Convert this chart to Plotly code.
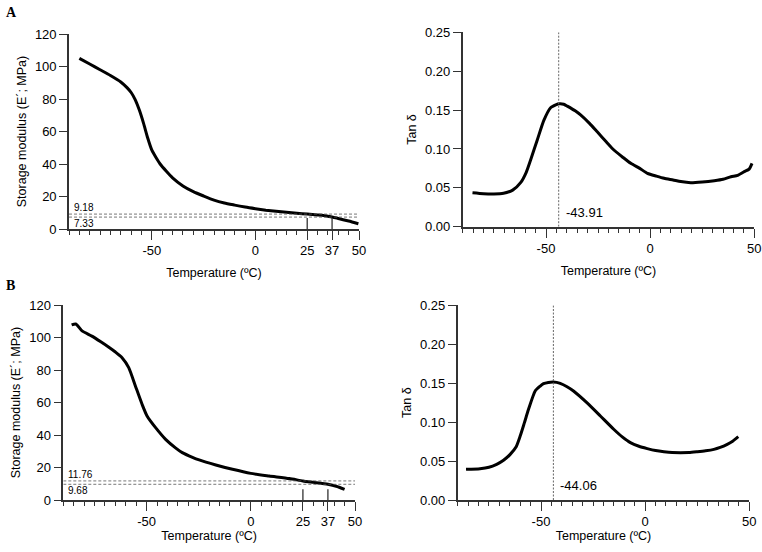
import plotly.graph_objects as go

# ---------------- data ----------------
temp_A_mod = [-85, -80, -75, -70, -65, -62, -60, -58, -56, -54, -52, -50, -48, -46, -43, -40, -35, -30, -25, -20, -15, -10, -5, 0, 5, 10, 15, 20, 25, 30, 35, 37, 40, 45, 49.7]
mod_A = [105, 101.5, 98, 94.5, 90.5, 87, 84, 79.5, 73, 65, 56, 48.5, 44, 40, 35.5, 31.5, 26.5, 23, 20.3, 17.8, 16, 14.7, 13.5, 12.5, 11.6, 10.9, 10.3, 9.7, 9.18, 8.6, 7.9, 7.33, 6.5, 4.9, 3.2]

temp_A_tan = [-85.3, -80, -75, -70.4, -66, -62.2, -59.5, -57.4, -54.2, -51, -47.8, -45, -43.9, -41.5, -39.8, -36, -33.4, -29, -25.4, -21, -17.4, -13, -9.3, -5, -1.3, 3, 6.7, 11, 14.7, 19.5, 25, 30.8, 35, 38.8, 42, 45.2, 47.5, 48.9]
tan_A = [0.0437, 0.0425, 0.0422, 0.043, 0.047, 0.0566, 0.07, 0.0858, 0.1115, 0.137, 0.153, 0.157, 0.158, 0.1575, 0.155, 0.149, 0.1437, 0.1325, 0.122, 0.109, 0.0986, 0.089, 0.0815, 0.075, 0.0686, 0.065, 0.0622, 0.06, 0.058, 0.0566, 0.0575, 0.0592, 0.061, 0.0643, 0.066, 0.0708, 0.074, 0.0815]

temp_B_mod = [-86, -84, -81, -76.3, -72, -68.3, -65, -61.8, -58.6, -55.4, -52.2, -49.8, -45.7, -40.9, -36, -32.9, -28, -24.8, -16.8, -8.8, 0, 8.8, 18.5, 25, 30, 37, 41, 45]
mod_B = [107.9, 108.5, 104.2, 101, 97.5, 94.3, 91.2, 87.7, 81.6, 70.3, 59, 51.8, 44.6, 37.4, 32, 29.2, 26.3, 24.7, 21.6, 18.9, 16.4, 14.8, 13.2, 11.76, 10.9, 9.68, 8.5, 6.6]

temp_B_tan = [-86, -79.3, -75, -71.3, -68, -64.8, -62, -60, -58, -56, -52.8, -50.5, -48.8, -46.5, -44.06, -42.5, -40.8, -37.5, -34.4, -28, -21.5, -15.1, -11, -7.1, -3, 1, 5, 9, 13, 17, 21, 25, 29, 33, 36, 39.4, 42, 44.7]
tan_B = [0.0394, 0.0402, 0.042, 0.0458, 0.051, 0.0586, 0.068, 0.0822, 0.099, 0.1164, 0.14, 0.146, 0.1494, 0.151, 0.1515, 0.151, 0.1498, 0.1455, 0.14, 0.125, 0.1079, 0.0908, 0.081, 0.0736, 0.069, 0.066, 0.0635, 0.062, 0.061, 0.0608, 0.061, 0.062, 0.0632, 0.065, 0.0675, 0.0715, 0.0755, 0.0813]

ref_temps = [25, 37]
ref_mod_A = [9.18, 7.33]
ref_mod_B = [11.76, 9.68]
peak_A = -43.91
peak_B = -44.06

x_major_mod = [-50, 0, 25, 37, 50]
x_major_tan = [-50, 0, 50]
y_mod_ticks = [0, 20, 40, 60, 80, 100, 120]
y_tan_ticks = [0, 0.05, 0.10, 0.15, 0.20, 0.25]

FONT = "Liberation Sans, Arial, sans-serif"
W, H = 762, 552
AXC = "#333"

fig = go.Figure()
line = dict(color="black", width=3, shape="spline", smoothing=0.6)
fig.add_trace(go.Scatter(x=temp_A_mod, y=mod_A, mode="lines", line=line, xaxis="x", yaxis="y", showlegend=False))
fig.add_trace(go.Scatter(x=temp_A_tan, y=tan_A, mode="lines", line=line, xaxis="x2", yaxis="y2", showlegend=False))
fig.add_trace(go.Scatter(x=temp_B_mod, y=mod_B, mode="lines", line=line, xaxis="x3", yaxis="y3", showlegend=False))
fig.add_trace(go.Scatter(x=temp_B_tan, y=tan_B, mode="lines", line=line, xaxis="x4", yaxis="y4", showlegend=False))

def px_dom(a, b, total):
    return [a / total, b / total]

def ydom(top, bottom):
    return [1 - bottom / H, 1 - top / H]

domains = {
    1: (px_dom(69, 359, W), ydom(34, 229)),
    2: (px_dom(462.7, 754.3, W), ydom(32.3, 226.7)),
    3: (px_dom(63.3, 355, W), ydom(305.3, 500)),
    4: (px_dom(457.7, 749.3, W), ydom(305.3, 500)),
}

tickfont = dict(family=FONT, size=13, color="black")
titlefont = dict(family=FONT, size=12.5, color="black")

layout = dict(
    width=W, height=H, margin=dict(l=0, r=0, t=0, b=0, pad=0),
    plot_bgcolor="white", paper_bgcolor="white", showlegend=False,
    font=dict(family=FONT, color="black"),
)

for i in range(1, 5):
    xs = "xaxis" if i == 1 else f"xaxis{i}"
    ys = "yaxis" if i == 1 else f"yaxis{i}"
    xd, yd = domains[i]
    is_mod = i in (1, 3)
    xt = x_major_mod if is_mod else x_major_tan
    layout[xs] = dict(
        domain=xd, anchor="y" if i == 1 else f"y{i}", range=[-90, 50],
        tickmode="array", tickvals=xt, ticktext=[str(v) for v in xt],
        ticks="outside", ticklen=9, tickwidth=1.3, tickcolor=AXC,
        showline=True, linecolor=AXC, linewidth=1.6, showgrid=False, zeroline=False,
        tickfont=tickfont, automargin=False,
        minor=dict(tick0=0, dtick=5, ticks="outside", ticklen=4.5, tickwidth=1.3, tickcolor=AXC, showgrid=False),
        title=dict(text="Temperature (ºC)", font=titlefont, standoff=11 if i <= 2 else 1),
    )
    yt = y_mod_ticks if is_mod else y_tan_ticks
    layout[ys] = dict(
        domain=yd, anchor="x" if i == 1 else f"x{i}",
        range=[0, 120] if is_mod else [0, 0.25],
        tickmode="array", tickvals=yt,
        ticktext=[str(v) for v in yt] if is_mod else [f"{v:.2f}" for v in yt],
        ticks="outside", ticklen=8, tickwidth=1.3, tickcolor=AXC,
        showline=True, linecolor=AXC, linewidth=1.6, showgrid=False, zeroline=False,
        tickfont=tickfont, automargin=False,
        title=dict(text="Storage modulus (E´; MPa)" if is_mod else "Tan δ", font=titlefont, standoff=6),
    )

fig.update_layout(**layout)

shapes = []
annotations = []

def add_mod_refs(xref, yref, vals):
    for v in vals:
        shapes.append(dict(type="line", xref=xref, yref=yref, x0=-90, x1=50, y0=v, y1=v,
                           line=dict(color="#555", width=0.8, dash="3px,2px")))
    annotations.append(dict(xref=xref, yref=yref, x=-88.5, y=vals[0], text=f"{vals[0]:.2f}",
                            showarrow=False, xanchor="left", yanchor="bottom",
                            font=dict(family=FONT, size=10, color="black"), yshift=-1))
    annotations.append(dict(xref=xref, yref=yref, x=-88.5, y=vals[1], text=f"{vals[1]:.2f}",
                            showarrow=False, xanchor="left", yanchor="top",
                            font=dict(family=FONT, size=10, color="black"), yshift=1))
    for t in ref_temps:
        shapes.append(dict(type="line", xref=xref, yref=yref, x0=t, x1=t, y0=0, y1=6.7,
                           line=dict(color=AXC, width=1.3)))

def add_peak(xref, yref, p):
    shapes.append(dict(type="line", xref=xref, yref=yref, x0=p, x1=p, y0=0, y1=0.25,
                       line=dict(color="#666", width=1, dash="2px,1.5px")))
    annotations.append(dict(xref=xref, yref=yref, x=p, y=0.006, text=f"{p:.2f}",
                            showarrow=False, xanchor="left", yanchor="bottom", xshift=5,
                            font=dict(family=FONT, size=13, color="black")))

add_mod_refs("x", "y", ref_mod_A)
add_mod_refs("x3", "y3", ref_mod_B)
add_peak("x2", "y2", peak_A)
add_peak("x4", "y4", peak_B)

annotations.append(dict(xref="paper", yref="paper", x=4 / W, y=1 - 3 / H, text="<b>A</b>", showarrow=False,
                        xanchor="left", yanchor="top", font=dict(family="Liberation Serif, Times New Roman, serif", size=14, color="black")))
annotations.append(dict(xref="paper", yref="paper", x=4 / W, y=1 - 276 / H, text="<b>B</b>", showarrow=False,
                        xanchor="left", yanchor="top", font=dict(family="Liberation Serif, Times New Roman, serif", size=14, color="black")))

fig.update_layout(shapes=shapes, annotations=annotations)
fig.write_html("out.html", config={"displayModeBar": False},
               post_script="document.body.style.margin='0';document.body.style.padding='0';")
